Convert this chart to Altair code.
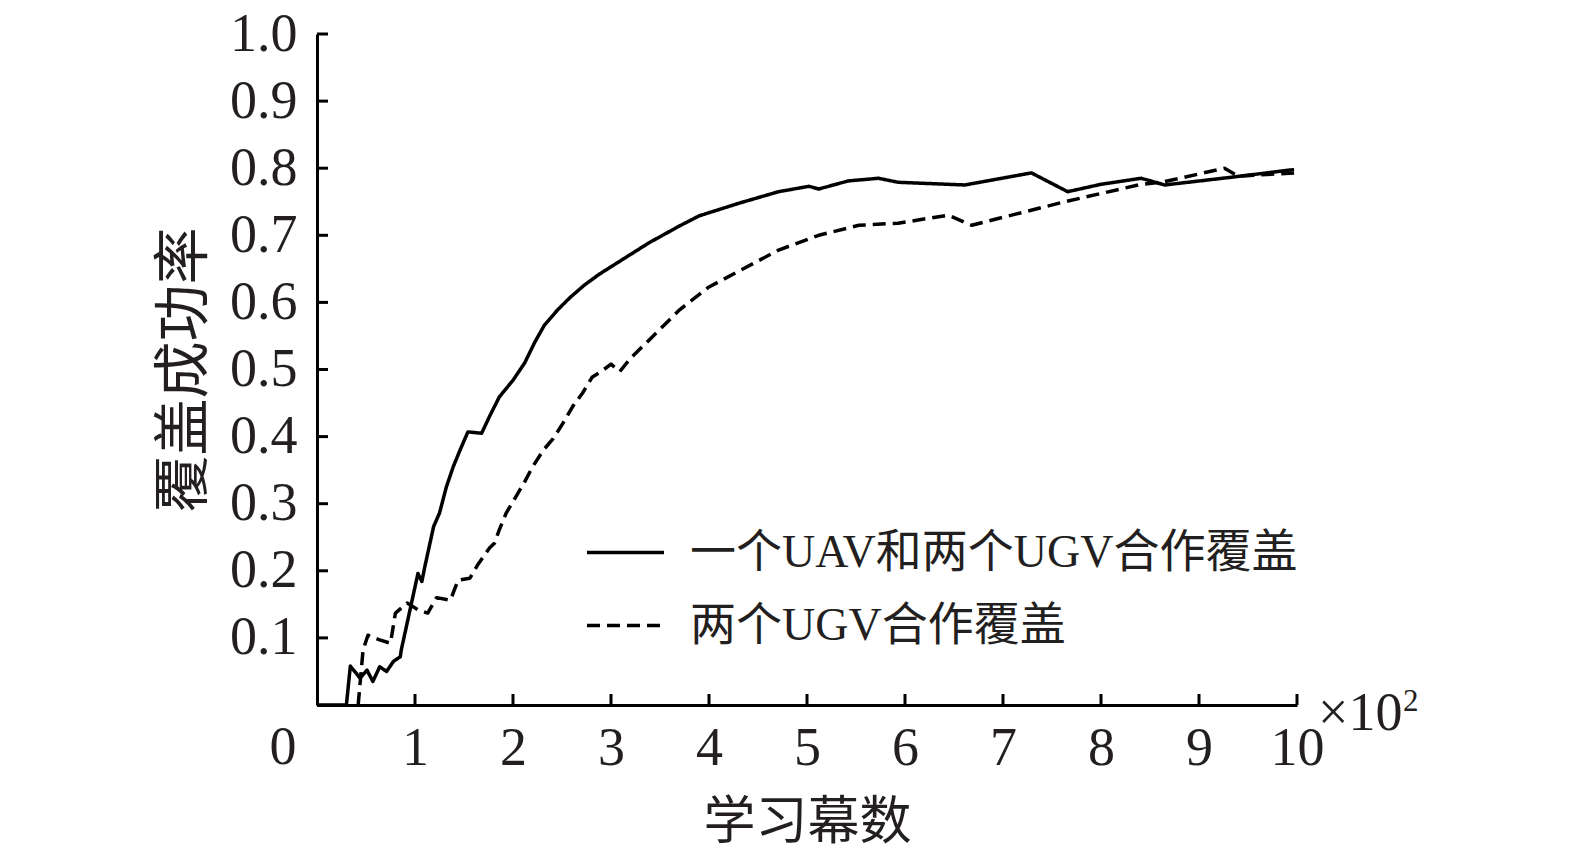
import altair as alt
import pandas as pd

series_names = ["一个UAV和两个UGV合作覆盖", "两个UGV合作覆盖"]

solid_x = [0.0, 0.30, 0.34, 0.44, 0.51, 0.57, 0.64, 0.71, 0.78, 0.85, 0.86, 1.03, 1.07, 1.10,
           1.19, 1.25, 1.32, 1.39, 1.46, 1.54, 1.68, 1.76, 1.86, 2.00, 2.12, 2.22, 2.32, 2.45, 2.58, 2.73, 2.88,
           3.14, 3.39, 3.70, 3.90, 4.31, 4.71, 5.02, 5.12, 5.42, 5.73, 5.93, 6.61, 7.29, 7.66,
           8.00, 8.41, 8.65, 9.30, 9.97]
solid_y = [0.0, 0.0, 0.058, 0.040, 0.052, 0.035, 0.057, 0.050, 0.065, 0.072, 0.082, 0.196, 0.184, 0.206,
           0.266, 0.286, 0.325, 0.355, 0.380, 0.407, 0.405, 0.430, 0.459, 0.484, 0.510, 0.540, 0.566, 0.588, 0.607, 0.626, 0.642,
           0.666, 0.689, 0.714, 0.729, 0.748, 0.765, 0.773, 0.769, 0.781, 0.785, 0.779, 0.775, 0.793, 0.765,
           0.776, 0.785, 0.775, 0.786, 0.798]

dashed_x = [0.42, 0.47, 0.52, 0.64, 0.75, 0.80, 0.92, 1.03, 1.13, 1.22, 1.36, 1.44, 1.56, 1.64,
            1.76, 1.81, 1.86, 1.93, 2.02, 2.12, 2.20, 2.31, 2.41, 2.51, 2.61, 2.71, 2.81, 2.90,
            3.00, 3.09, 3.20, 3.39, 3.70, 4.00, 4.31, 4.71, 5.12, 5.53, 5.93, 6.44, 6.68, 7.63,
            8.38, 8.65, 9.26, 9.40, 9.97]
dashed_y = [0.0, 0.082, 0.104, 0.097, 0.092, 0.137, 0.152, 0.142, 0.137, 0.160, 0.156, 0.186, 0.189, 0.209,
            0.234, 0.241, 0.261, 0.286, 0.308, 0.333, 0.355, 0.380, 0.397, 0.420, 0.445, 0.465, 0.489, 0.497,
            0.508, 0.497, 0.517, 0.544, 0.589, 0.623, 0.647, 0.678, 0.700, 0.715, 0.718, 0.730, 0.715, 0.750,
            0.775, 0.780, 0.800, 0.788, 0.793]

x_ticks = [0, 1, 2, 3, 4, 5, 6, 7, 8, 9, 10]
y_ticks = [0.1, 0.2, 0.3, 0.4, 0.5, 0.6, 0.7, 0.8, 0.9, 1.0]
x_title = "学习幕数"
y_title = "覆盖成功率"

rows = []
for name, xs, ys in [(series_names[0], solid_x, solid_y), (series_names[1], dashed_x, dashed_y)]:
    for i, (a, b) in enumerate(zip(xs, ys)):
        rows.append({"series": name, "x": a, "y": b, "idx": i})
df = pd.DataFrame(rows)

W, H = 980, 671
SERIF = "Liberation Serif, Times New Roman, Noto Sans CJK SC"
CJK = "Noto Sans CJK SC"
INK = "#231f20"

xscale = alt.Scale(domain=[0, 10], nice=False, zero=False)
yscale = alt.Scale(domain=[0, 1], nice=False)

lines = alt.Chart(df).mark_line(strokeWidth=3.5, color="black", strokeJoin="round").encode(
    x=alt.X("x:Q", scale=xscale, axis=alt.Axis(
        values=x_ticks, labelExpr="datum.value == 0 ? '' : format(datum.value, 'd')",
        labelFlush=False, labelOverlap=False,
        title=x_title, titleFont=CJK, titleFontSize=52, titleFontWeight="normal",
        titlePadding=22, labelPadding=16)),
    y=alt.Y("y:Q", scale=yscale, axis=alt.Axis(
        values=y_ticks, labelExpr="format(datum.value, '.1f')",
        labelFlush=False, labelOverlap=False,
        title=y_title, titleFont=CJK, titleFontSize=57, titleFontWeight="normal",
        titlePadding=16, labelPadding=20)),
    strokeDash=alt.StrokeDash("series:N",
                              scale=alt.Scale(domain=series_names, range=[[1, 0], [13, 7]]),
                              legend=alt.Legend(orient="none", legendX=268, legendY=478, title=None,
                                                symbolType="stroke", symbolSize=5929,
                                                symbolStrokeWidth=3.5, symbolStrokeColor="black",
                                                labelFont=SERIF, labelFontSize=46, labelColor=INK,
                                                labelOffset=24, rowPadding=9, padding=0,
                                                labelLimit=1000)),
    order="idx:Q",
)

xt = alt.Chart(pd.DataFrame({"t": x_ticks[1:]})).mark_rule(strokeWidth=3, color="black").encode(
    x=alt.X("t:Q", scale=xscale), y=alt.value(H), y2=alt.value(H - 11))
yt = alt.Chart(pd.DataFrame({"t": y_ticks})).mark_rule(strokeWidth=3, color="black").encode(
    y=alt.Y("t:Q", scale=yscale), x=alt.value(0), x2=alt.value(11))

zero_lbl = alt.Chart(pd.DataFrame({"s": ["0"]})).mark_text(
    font=SERIF, fontSize=54, color=INK, baseline="top", align="center").encode(
    text="s:N", x=alt.value(-34), y=alt.value(H + 16))
mult_lbl = alt.Chart(pd.DataFrame({"s": ["×10"]})).mark_text(
    font=SERIF, fontSize=54, color=INK, baseline="alphabetic", align="left").encode(
    text="s:N", x=alt.value(1001), y=alt.value(H + 25))
exp_lbl = alt.Chart(pd.DataFrame({"s": ["2"]})).mark_text(
    font=SERIF, fontSize=31, color=INK, baseline="alphabetic", align="left").encode(
    text="s:N", x=alt.value(1086), y=alt.value(H + 6))

chart = alt.layer(lines, xt, yt, zero_lbl, mult_lbl, exp_lbl).properties(
    width=W, height=H,
    autosize=alt.AutoSizeParams(type="none"),
    padding={"left": 309, "top": 26, "right": 200, "bottom": 139},
    background="white",
).configure_view(stroke=None).configure_axis(
    grid=False, tickSize=0, domainColor="black", domainWidth=3,
    labelFont=SERIF, labelFontSize=54, labelColor=INK, titleColor=INK,
)

chart.save("out.html", embed_options={"renderer": "svg", "actions": False})
